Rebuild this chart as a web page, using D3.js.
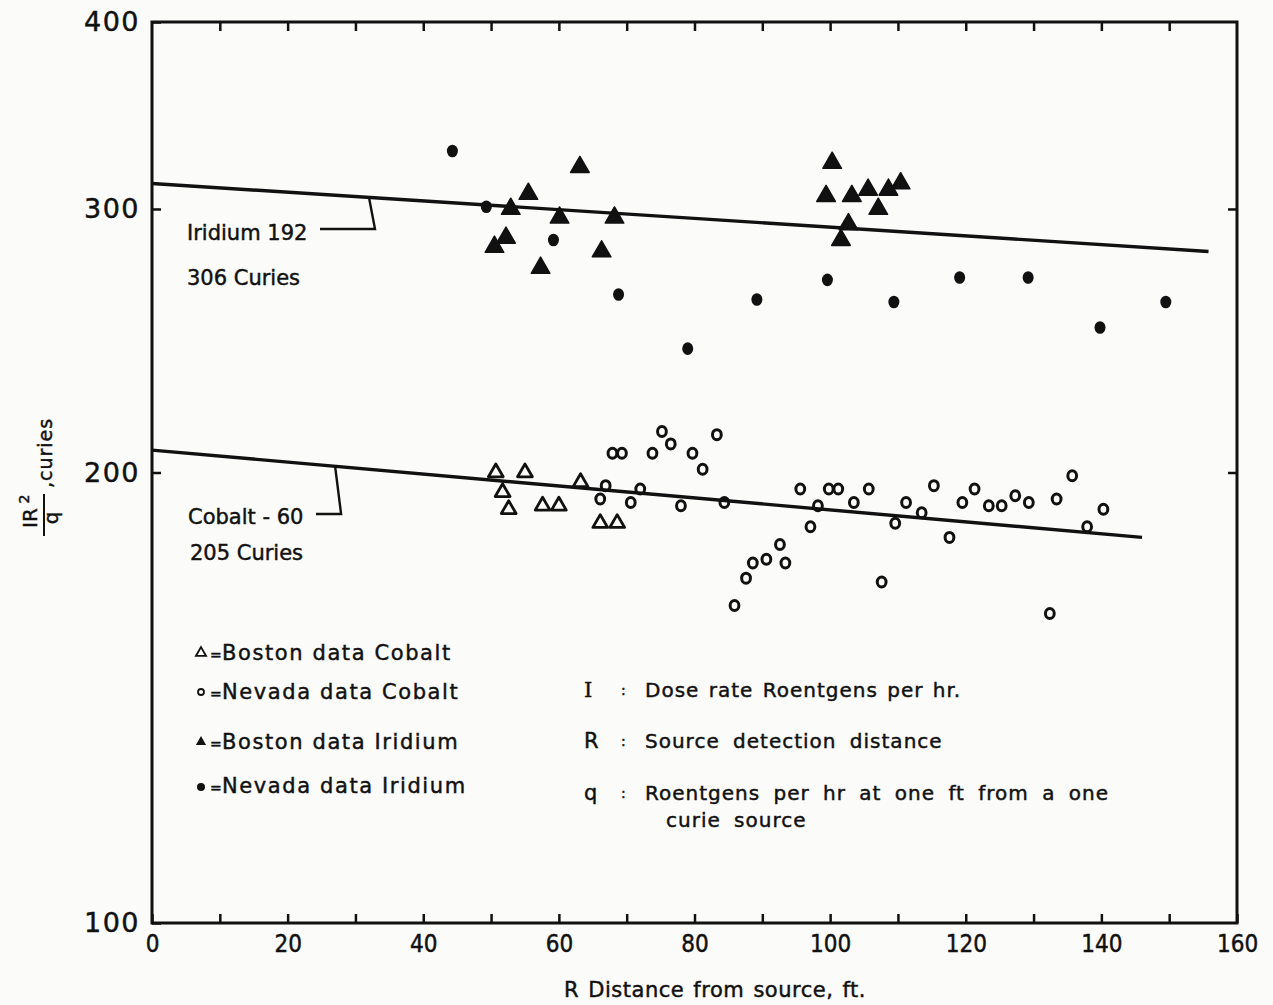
<!DOCTYPE html>
<html>
<head>
<meta charset="utf-8">
<script src="https://cdn.jsdelivr.net/npm/d3@7"></script>
<style>
  body { margin: 0; background: #fbfbfa; }
  svg { display: block; }
  text { font-family: "DejaVu Sans", sans-serif; fill: #111; stroke: #111; stroke-width: 0.45px; }
</style>
</head>
<body>
<svg id="chart" width="1273" height="1005"></svg>
<script>
// Boston data Iridium (filled triangles): [R ft, IR^2/q curies]
var bostonIridium = [
  [50.5, 283], [52.2, 287], [52.9, 300], [55.5, 307], [57.3, 274], [60.1, 296],
  [63.1, 320], [66.3, 281], [68.2, 296], [99.4, 306], [100.3, 322], [101.6, 286],
  [102.7, 293], [103.2, 306], [105.6, 309], [107.1, 300], [108.6, 309], [110.4, 312]
];
// Nevada data Iridium (filled dots)
var nevadaIridium = [
  [44.3, 328], [49.3, 301], [59.2, 286], [68.8, 263], [79.0, 242], [89.2, 261],
  [99.6, 269], [109.4, 260], [119.1, 270], [129.2, 270], [139.8, 250], [149.5, 260]
];
// Boston data Cobalt (open triangles)
var bostonCobalt = [
  [50.7, 200], [51.7, 194], [52.6, 189], [55.0, 200], [57.6, 190], [60.0, 190],
  [63.2, 197], [66.1, 185], [68.6, 185]
];
// Nevada data Cobalt (open circles)
var nevadaCobalt = [
  [66.9, 196], [66.1, 192], [67.9, 206], [69.3, 206], [70.6, 191], [72.0, 195],
  [73.8, 206], [75.2, 213], [76.5, 209], [78.0, 190], [79.7, 206], [81.2, 201],
  [83.3, 212], [84.4, 191], [85.9, 163], [87.6, 170], [88.6, 174], [90.6, 175],
  [92.6, 179], [93.4, 174], [95.6, 195], [97.1, 184], [98.2, 190], [99.8, 195],
  [101.2, 195], [103.5, 191], [105.7, 195], [107.6, 169], [109.6, 185], [111.2, 191],
  [113.5, 188], [115.3, 196], [117.6, 181], [119.5, 191], [121.3, 195], [123.4, 190],
  [125.3, 190], [127.3, 193], [129.3, 191], [132.4, 161], [133.4, 192], [135.7, 199],
  [137.9, 184], [140.3, 189]
];
// fitted lines: [R start, value], [R end, value]
var iridiumLine = [[0, 312], [155.8, 281]];
var cobaltLine = [[0, 207], [146, 181]];

var xTicks = d3.range(0, 161, 10);
var yTicks = [100, 200, 300, 400];

var legendLeft = [
  {sym: "openTri", text: "Boston data Cobalt"},
  {sym: "openDot", text: "Nevada data Cobalt"},
  {sym: "fillTri", text: "Boston data Iridium"},
  {sym: "fillDot", text: "Nevada data Iridium"}
];
var legendRight = [
  {key: "I", text: ["Dose rate Roentgens per hr."]},
  {key: "R", text: ["Source detection distance"]},
  {key: "q", text: ["Roentgens per hr at one ft from a one", "curie source"]}
];

var svg = d3.select("#chart");
var x = d3.scaleLinear().domain([0, 160]).range([152, 1237]);
var y = d3.scaleLog().domain([100, 400]).range([923, 22]);

var tri = d3.symbol().type(d3.symbolTriangle);
var ink = "#111";

// frame
svg.append("rect")
  .attr("x", x(0)).attr("y", y(400))
  .attr("width", x(160) - x(0)).attr("height", y(100) - y(400))
  .attr("fill", "none").attr("stroke", ink).attr("stroke-width", 3);

// bottom axis
var xAxis = svg.append("g")
  .attr("transform", "translate(0," + y(100) + ")")
  .call(d3.axisBottom(x).tickValues(xTicks).tickSizeInner(-9).tickSizeOuter(0)
    .tickPadding(12)
    .tickFormat(function (d) { return d % 20 === 0 ? d : ""; }));
xAxis.select(".domain").remove();
xAxis.selectAll("line").attr("stroke", ink).attr("stroke-width", 2.5);
xAxis.selectAll("text").style("font-size", "24px")
  .style("font-family", "DejaVu Sans Condensed, DejaVu Sans, sans-serif");

// top axis
var xTop = svg.append("g")
  .attr("transform", "translate(0," + y(400) + ")")
  .call(d3.axisTop(x).tickValues(xTicks.slice(1, -1)).tickSizeInner(-9).tickSizeOuter(0)
    .tickFormat(""));
xTop.select(".domain").remove();
xTop.selectAll("line").attr("stroke", ink).attr("stroke-width", 2.5);

// left axis
var yAxis = svg.append("g")
  .attr("transform", "translate(" + x(0) + ",0)")
  .call(d3.axisLeft(y).tickValues(yTicks).tickSizeInner(-9).tickSizeOuter(0)
    .tickPadding(12).tickFormat(d3.format("d")));
yAxis.select(".domain").remove();
yAxis.selectAll("line").attr("stroke", ink).attr("stroke-width", 2.5);
yAxis.selectAll("text").style("font-size", "27px").style("letter-spacing", "1.5px");

// right axis
var yRight = svg.append("g")
  .attr("transform", "translate(" + x(160) + ",0)")
  .call(d3.axisRight(y).tickValues([200, 300]).tickSizeInner(-9).tickSizeOuter(0)
    .tickFormat(""));
yRight.select(".domain").remove();
yRight.selectAll("line").attr("stroke", ink).attr("stroke-width", 2.5);

// fitted lines
var line = d3.line().x(function (d) { return x(d[0]); }).y(function (d) { return y(d[1]); });
[iridiumLine, cobaltLine].forEach(function (l) {
  svg.append("path").attr("d", line(l))
    .attr("fill", "none").attr("stroke", ink).attr("stroke-width", 3.4);
});

function lineAt(l, r) {
  var t = (r - l[0][0]) / (l[1][0] - l[0][0]);
  return Math.exp(Math.log(l[0][1]) + t * (Math.log(l[1][1]) - Math.log(l[0][1])));
}

// line labels with leaders
function lineLabel(l, attachR, lines, tx, ty, lead) {
  var ax = x(attachR), ay = y(lineAt(l, attachR));
  svg.append("path")
    .attr("d", "M" + lead[0] + "," + lead[1] + "H" + (ax + 6) + "L" + ax + "," + ay)
    .attr("fill", "none").attr("stroke", ink).attr("stroke-width", 2.4);
  lines.forEach(function (s, i) {
    svg.append("text").attr("x", tx[i]).attr("y", ty[i])
      .style("font-size", "21px").text(s);
  });
}
lineLabel(iridiumLine, 32, ["Iridium 192", "306 Curies"], [187, 187], [240, 285], [320, 229]);
lineLabel(cobaltLine, 27, ["Cobalt - 60", "205 Curies"], [188, 190], [524, 560], [316, 514]);

// markers
function drawSym(g, type, px, py) {
  if (type === "fillTri") {
    g.append("path").attr("d", tri.size(150)()).attr("transform", "translate(" + px + "," + py + ")")
      .attr("fill", ink).attr("stroke", ink).attr("stroke-width", 1.5).attr("stroke-linejoin", "round");
  } else if (type === "openTri") {
    g.append("path").attr("d", tri.size(95)()).attr("transform", "translate(" + px + "," + py + ")")
      .attr("fill", "none").attr("stroke", ink).attr("stroke-width", 2.8).attr("stroke-linejoin", "round");
  } else if (type === "fillDot") {
    g.append("ellipse").attr("cx", px).attr("cy", py).attr("rx", 5.5).attr("ry", 6.3)
      .attr("fill", ink);
  } else {
    g.append("ellipse").attr("cx", px).attr("cy", py).attr("rx", 4.4).attr("ry", 5)
      .attr("fill", "none").attr("stroke", ink).attr("stroke-width", 3);
  }
}
var marks = svg.append("g");
[[bostonIridium, "fillTri"], [nevadaIridium, "fillDot"], [bostonCobalt, "openTri"], [nevadaCobalt, "openDot"]]
  .forEach(function (s) {
    s[0].forEach(function (d) { drawSym(marks, s[1], x(d[0]), y(d[1])); });
  });

// legend, symbols
var legTop = 660, legStep = [0, 39, 89, 133];
legendLeft.forEach(function (d, i) {
  var by = legTop + legStep[i];
  var g = svg.append("g");
  if (d.sym === "fillTri") {
    g.append("path").attr("d", tri.size(45)()).attr("transform", "translate(201," + (by - 7) + ")").attr("fill", ink);
  } else if (d.sym === "openTri") {
    g.append("path").attr("d", tri.size(45)()).attr("transform", "translate(201," + (by - 7) + ")")
      .attr("fill", "none").attr("stroke", ink).attr("stroke-width", 1.8);
  } else if (d.sym === "fillDot") {
    g.append("circle").attr("cx", 201).attr("cy", by - 6).attr("r", 4).attr("fill", ink);
  } else {
    g.append("circle").attr("cx", 201).attr("cy", by - 7).attr("r", 3).attr("fill", "none")
      .attr("stroke", ink).attr("stroke-width", 1.8);
  }
  g.append("text").attr("x", 210).attr("y", by).style("font-size", "14px").text("=");
  g.append("text").attr("x", 222).attr("y", by).style("font-size", "21px")
    .style("letter-spacing", "1.6px").text(d.text);
});

// legend, definitions
var defY = [697, 748, 800];
legendRight.forEach(function (d, i) {
  svg.append("text").attr("x", 584).attr("y", defY[i]).style("font-size", "21px")
    .style("font-family", d.key === "I" ? "DejaVu Serif, serif" : "DejaVu Sans, sans-serif").text(d.key);
  svg.append("text").attr("x", 621).attr("y", defY[i] - 2).style("font-size", "14px").text(":");
  d.text.forEach(function (s, j) {
    svg.append("text").attr("x", 645 + j * 21).attr("y", defY[i] + j * 27)
      .style("font-size", "20px").style("letter-spacing", "1px")
      .style("word-spacing", i === 0 ? "2px" : "6px").text(s);
  });
});

// y axis title: IR^2/q , curies
var yt = svg.append("g").attr("transform", "translate(40,518) rotate(-90)");
yt.append("text").attr("x", 0).attr("y", -3).attr("text-anchor", "middle")
  .style("font-size", "20px").text("IR");
yt.append("text").attr("x", 19).attr("y", -11).attr("text-anchor", "middle")
  .style("font-size", "14px").text("2");
yt.append("line").attr("x1", -18).attr("x2", 24).attr("y1", 4).attr("y2", 4)
  .attr("stroke", ink).attr("stroke-width", 2);
yt.append("text").attr("x", 0).attr("y", 18).attr("text-anchor", "middle")
  .style("font-size", "20px").text("q");
yt.append("text").attr("x", 30).attr("y", 12)
  .style("font-size", "19px").style("letter-spacing", "1px").text(",curies");

// x axis title
svg.append("text").attr("x", 715).attr("y", 997).attr("text-anchor", "middle")
  .style("font-size", "21px").style("letter-spacing", "0.5px").style("word-spacing", "2px")
  .text("R  Distance  from  source, ft.");
</script>
</body>
</html>
